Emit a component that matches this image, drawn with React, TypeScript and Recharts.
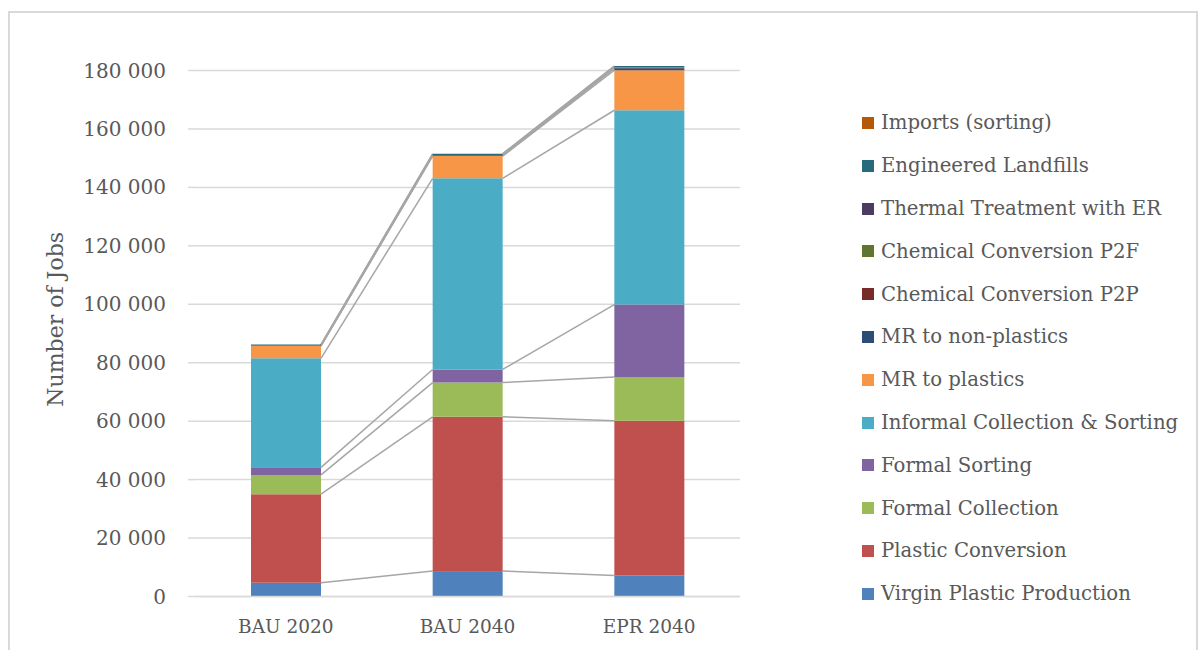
import { BarChart, Bar, XAxis, YAxis, CartesianGrid, Legend } from 'recharts'

const categories = ['BAU 2020', 'BAU 2040', 'EPR 2040']

const virginPlastic = [4700, 8700, 7200]
const plasticConversion = [30300, 52800, 52900]
const formalCollection = [6600, 11700, 15000]
const formalSorting = [2600, 4500, 24800]
const informalCollection = [37300, 65400, 66500]
const mrPlastics = [4200, 7600, 13700]
const mrNonPlastics = [200, 300, 700]
const chemP2P = [0, 0, 100]
const chemP2F = [0, 0, 100]
const thermalER = [0, 0, 100]
const landfills = [300, 500, 400]
const imports = [0, 0, 0]

const yTicks = [0, 20000, 40000, 60000, 80000, 100000, 120000, 140000, 160000, 180000]

const series = [
  { key: 'virgin', name: 'Virgin Plastic Production', color: '#4f81bd', values: virginPlastic },
  { key: 'conversion', name: 'Plastic Conversion', color: '#c0504d', values: plasticConversion },
  { key: 'formalCollection', name: 'Formal Collection', color: '#9bbb59', values: formalCollection },
  { key: 'formalSorting', name: 'Formal Sorting', color: '#8064a2', values: formalSorting },
  { key: 'informal', name: 'Informal Collection & Sorting', color: '#4bacc6', values: informalCollection },
  { key: 'mrPlastics', name: 'MR to plastics', color: '#f79646', values: mrPlastics },
  { key: 'mrNonPlastics', name: 'MR to non-plastics', color: '#2c4d75', values: mrNonPlastics },
  { key: 'p2p', name: 'Chemical Conversion P2P', color: '#772c2a', values: chemP2P },
  { key: 'p2f', name: 'Chemical Conversion P2F', color: '#5f7530', values: chemP2F },
  { key: 'thermal', name: 'Thermal Treatment with ER', color: '#4d3b62', values: thermalER },
  { key: 'landfills', name: 'Engineered Landfills', color: '#276a7c', values: landfills },
  { key: 'imports', name: 'Imports (sorting)', color: '#b65708', values: imports }
]

const data = categories.map((category, i) => {
  const row: Record<string, string | number> = { category }
  series.forEach((s) => { row[s.key] = s.values[i] })
  return row
})

// the tallest stack pokes a little above the last tick, like in Excel;
// grow the plot upwards so 0..180 000 keeps the same pixel span
const AXIS_MAX = 180000
const totals = categories.map((_, i) => series.reduce((sum, s) => sum + s.values[i], 0))
const yMax = Math.max(AXIS_MAX, ...totals)
const PLOT_H = 526
const topMargin = 57.5 - ((yMax - AXIS_MAX) * PLOT_H) / AXIS_MAX

const FONT = '"DejaVu Serif", serif'
const TEXT = '#595959'

const fmt = (v: number) => String(v).replace(/\B(?=(\d{3})+(?!\d))/g, ' ')

// bar geometry of the first series, filled in as its rects render
const barGeo: { x: number; w: number; base: number; k: number; row: any }[] = []

function cumulativeTops(row: any) {
  let sum = 0
  return series.map((s) => (sum += Number(row[s.key]) || 0))
}

function FirstShape(props: any) {
  const { x, y, width, height, index, payload, fill } = props
  const base = y + height
  const k = height / (Number(payload.virgin) || 1)
  barGeo[index] = { x, w: width, base, k, row: payload }
  const prev = index > 0 ? barGeo[index - 1] : null
  let lines: any[] = []
  if (prev) {
    const a = cumulativeTops(prev.row)
    const b = cumulativeTops(payload)
    lines = a.map((v, j) => (
      <line
        key={j}
        x1={prev.x + prev.w}
        y1={base - k * v}
        x2={x}
        y2={base - k * b[j]}
        stroke="#a6a6a6"
        strokeWidth={1.5}
      />
    ))
  }
  return (
    <g>
      {lines}
      <rect x={x} y={y} width={width} height={height} fill={fill} />
    </g>
  )
}

function LegendBox() {
  const items = [...series].reverse()
  return (
    <div style={{ paddingLeft: 122, fontFamily: FONT, fontSize: 19.7, color: TEXT }}>
      {items.map((s) => (
        <div key={s.key} style={{ height: 42.8, display: 'flex', alignItems: 'center', whiteSpace: 'nowrap' }}>
          <span style={{ width: 12, height: 12, background: s.color, marginRight: 7, display: 'inline-block' }} />
          <span>{s.name}</span>
        </div>
      ))}
    </div>
  )
}

export default function App() {
  return (
    <>
      <style>{'body{margin:0;overflow:hidden}'}</style>
      <div
        style={{
          position: 'absolute',
          left: 8,
          top: 11,
          width: 1190,
          height: 639,
          boxSizing: 'border-box',
          borderTop: '2px solid #d9d9d9',
          borderLeft: '2px solid #d9d9d9',
          borderRight: '2px solid #d9d9d9'
        }}
      >
        <BarChart
          width={1186}
          height={636}
          data={data}
          margin={{ top: topMargin, right: 6, bottom: 12.5, left: 20 }}
          barSize={70}
        >
          <CartesianGrid vertical={false} horizontalValues={yTicks} stroke="#d9d9d9" strokeWidth={1.5} />
          <XAxis
            dataKey="category"
            height={40}
            axisLine={{ stroke: '#d9d9d9', strokeWidth: 1.5 }}
            tickLine={false}
            tickMargin={17}
            tick={{ fill: TEXT, fontSize: 18.5, fontFamily: FONT }}
          />
          <YAxis
            width={165}
            domain={[0, yMax]}
            ticks={yTicks}
            interval={0}
            axisLine={false}
            tickLine={{ stroke: '#d9d9d9', strokeWidth: 1.5 }}
            tickSize={7}
            tickMargin={22}
            tickFormatter={fmt}
            tick={{ fill: TEXT, fontSize: 20, fontFamily: FONT }}
            label={{
              value: 'Number of Jobs',
              angle: -90,
              position: 'center',
              dx: -57.5,
              dy: -12,
              fill: TEXT,
              fontSize: 22,
              fontFamily: FONT
            }}
          />
          <Legend
            layout="vertical"
            align="right"
            verticalAlign="top"
            width={450}
            wrapperStyle={{ top: 88.6, width: 450 }}
            content={<LegendBox />}
          />
          {series.map((s, i) => (
            <Bar
              key={s.key}
              dataKey={s.key}
              name={s.name}
              stackId="jobs"
              fill={s.color}
              isAnimationActive={false}
              shape={i === 0 ? (p: any) => <FirstShape {...p} /> : undefined}
            />
          ))}
        </BarChart>
      </div>
    </>
  )
}
